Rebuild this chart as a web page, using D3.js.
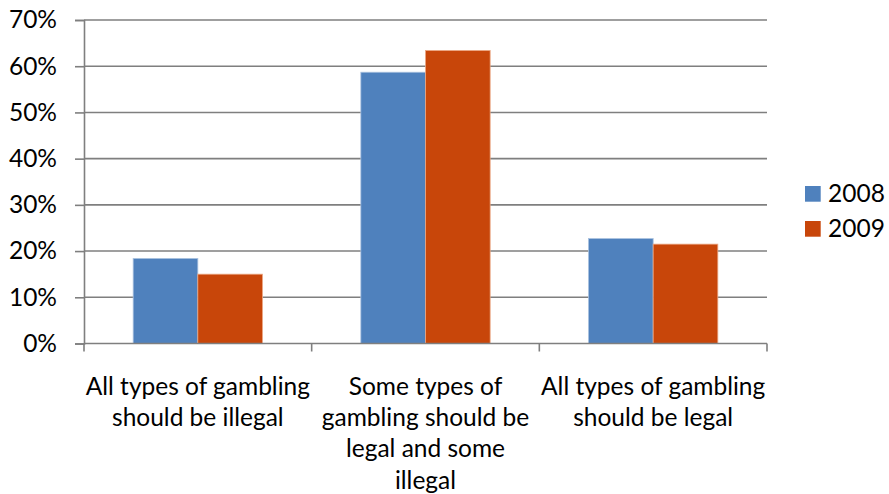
<!DOCTYPE html>
<html>
<head>
<meta charset="utf-8">
<script src="https://cdn.jsdelivr.net/npm/d3@7"></script>
<style>
  html, body { margin: 0; padding: 0; background: #fff; }
  svg { display: block; }
  text { font-family: Lato, "Open Sans", sans-serif; fill: #000; }
</style>
</head>
<body>
<svg id="chart" width="889" height="494"></svg>
<script>
// Opinion on gambling legality, share of respondents
const categories = [
  ["All types of gambling", "should be illegal"],
  ["Some types of", "gambling should be", "legal and some", "illegal"],
  ["All types of gambling", "should be legal"]
];
const seriesNames = ["2008", "2009"];
const values2008 = [0.184, 0.587, 0.227];
const values2009 = [0.150, 0.634, 0.215];
const yTicks = [0, 0.1, 0.2, 0.3, 0.4, 0.5, 0.6, 0.7];
const colors = ["#4F81BD", "#C8460A"];
const edgeColors = ["#a9c1df", "#eba784"];

const fontSize = "24.5px";
const svg = d3.select("#chart");
const m = { left: 84, right: 767, top: 20, bottom: 343.5 };

const catIdx = categories.map((_, i) => i);
const x0 = d3.scaleBand().domain(catIdx).range([m.left, m.right])
  .paddingInner(0.432).paddingOuter(0.216);
const x1 = d3.scaleBand().domain(seriesNames).range([0, x0.bandwidth()]);
const y = d3.scaleLinear().domain([0, 0.7]).range([m.bottom, m.top]);

// horizontal gridlines
svg.append("g").selectAll("line").data(yTicks.filter(t => t > 0)).join("line")
  .attr("x1", m.left).attr("x2", m.right)
  .attr("y1", d => y(d)).attr("y2", d => y(d))
  .attr("stroke", "#7f7f7f").attr("stroke-width", 1.6);

// y axis
const yAxis = d3.axisLeft(y).tickValues(yTicks).tickFormat(d3.format(".0%"))
  .tickSize(9).tickPadding(18);
const gy = svg.append("g").attr("transform", `translate(${m.left},0)`).call(yAxis);
gy.select(".domain").attr("stroke", "#7f7f7f").attr("stroke-width", 1.6);
gy.selectAll(".tick line").attr("stroke", "#7f7f7f").attr("stroke-width", 1.6);
gy.selectAll(".tick text").style("font-size", fontSize).attr("fill", "#000")
  .attr("font-family", "Lato, 'Open Sans', sans-serif");

// bars
const rows = catIdx.map(i => [values2008[i], values2009[i]]);
const groups = svg.append("g").selectAll("g").data(rows).join("g")
  .attr("transform", (d, i) => `translate(${x0(i)},0)`);
groups.selectAll("rect").data(d => d.map((v, j) => ({ v, j }))).join("rect")
  .attr("x", d => x1(seriesNames[d.j]))
  .attr("width", x1.bandwidth())
  .attr("y", d => y(d.v))
  .attr("height", d => y(0) - y(d.v))
  .attr("fill", d => colors[d.j])
  .attr("stroke", d => edgeColors[d.j]).attr("stroke-width", 0.8);

// x axis with ticks between categories
const xEdges = [m.left, ...catIdx.map(i => x0(i) + x0.bandwidth() + x0.step() * x0.paddingInner() / 2)];
const gx = svg.append("g");
gx.append("line").attr("x1", m.left).attr("x2", m.right)
  .attr("y1", y(0)).attr("y2", y(0))
  .attr("stroke", "#7f7f7f").attr("stroke-width", 1.6);
gx.selectAll("line.tk").data(xEdges).join("line").attr("class", "tk")
  .attr("x1", d => d).attr("x2", d => d)
  .attr("y1", y(0)).attr("y2", y(0) + 8)
  .attr("stroke", "#7f7f7f").attr("stroke-width", 1.6);

// category labels
const labels = svg.append("g").selectAll("text").data(categories).join("text")
  .attr("text-anchor", "middle")
  .style("font-size", fontSize)
  .attr("transform", (d, i) => `translate(${x0(i) + x0.bandwidth() / 2},395)`);
labels.selectAll("tspan").data(d => d).join("tspan")
  .attr("x", 0).attr("y", (d, k) => k * 31.2).text(d => d);

// legend
const lg = svg.append("g").attr("transform", "translate(805,186)");
const li = lg.selectAll("g").data(seriesNames).join("g")
  .attr("transform", (d, i) => `translate(0,${i * 35})`);
li.append("rect").attr("width", 15.7).attr("height", 15.7)
  .attr("fill", (d, i) => colors[i]);
li.append("text").attr("x", 23).attr("y", 16).style("font-size", fontSize).text(d => d);
</script>
</body>
</html>
